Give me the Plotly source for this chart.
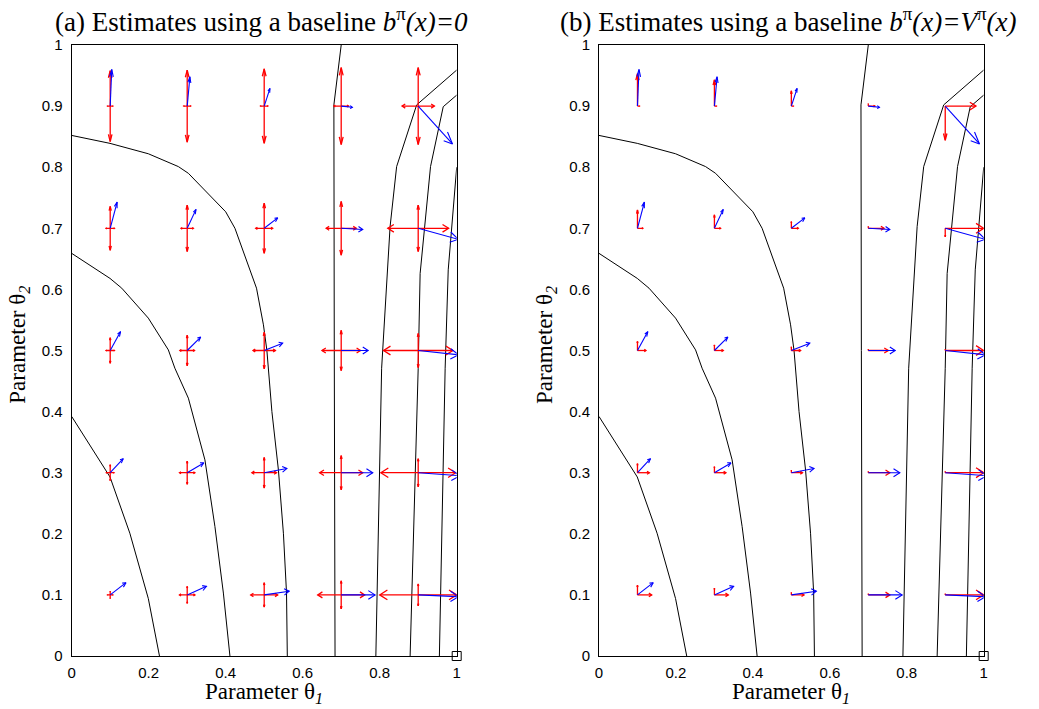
import plotly.graph_objects as go

# ---------------- data ----------------
grid_x = [0.1, 0.3, 0.5, 0.7, 0.9]
grid_y = [0.1, 0.3, 0.5, 0.7, 0.9]

# mean gradient estimate (blue), rows = grid_y, cols = grid_x
blue_u = [[0.041, 0.050, 0.065, 0.088, 0.105],
          [0.034, 0.043, 0.059, 0.082, 0.108],
          [0.027, 0.035, 0.048, 0.070, 0.105],
          [0.018, 0.023, 0.035, 0.056, 0.104],
          [0.004, 0.007, 0.015, 0.029, 0.089]]
blue_v = [[0.020, 0.014, 0.006, 0.000, -0.003],
          [0.023, 0.016, 0.007, 0.000, -0.005],
          [0.031, 0.022, 0.012, 0.000, -0.007],
          [0.043, 0.031, 0.017, -0.002, -0.018],
          [0.060, 0.048, 0.029, -0.002, -0.062]]

# (a) standard deviation (red, double headed)
std_a_u = [[0.007, 0.020, 0.035, 0.061, 0.100],
           [0.010, 0.020, 0.032, 0.056, 0.097],
           [0.011, 0.019, 0.029, 0.050, 0.090],
           [0.011, 0.016, 0.022, 0.039, 0.079],
           [0.007, 0.009, 0.0095, 0.019, 0.042]]
std_a_v = [[0.006, 0.014, 0.020, 0.023, 0.018],
           [0.013, 0.019, 0.025, 0.028, 0.023],
           [0.021, 0.025, 0.030, 0.033, 0.028],
           [0.036, 0.038, 0.041, 0.044, 0.038],
           [0.058, 0.059, 0.061, 0.063, 0.063]]

# (b) standard deviation (red, signed single arrows)
std_b_u = [[0.037, 0.036, 0.033, 0.056, 0.100],
           [0.031, 0.030, 0.029, 0.056, 0.100],
           [0.022, 0.023, 0.024, 0.052, 0.100],
           [0.014, 0.016, 0.018, 0.041, 0.100],
           [0.005, 0.005, 0.005, 0.017, 0.080]]
std_b_v = [[0.016, 0.011, 0.004, 0.002, 0.002],
           [0.015, 0.010, 0.004, 0.002, 0.002],
           [0.015, 0.009, 0.006, 0.002, 0.002],
           [0.030, 0.022, 0.011, 0.003, -0.014],
           [0.053, 0.043, 0.025, 0.004, -0.056]]

# contour lines of the value function
contours = [
    ([0, 0.0995, 0.199, 0.277, 0.303, 0.40, 0.424, 0.48, 0.498, 0.507, 0.52, 0.537, 0.55, 0.558, 0.56],
     [0.852, 0.839, 0.822, 0.801, 0.79, 0.727, 0.70, 0.602, 0.542, 0.50, 0.40, 0.304, 0.20, 0.103, 0]),
    ([0, 0.0995, 0.13, 0.199, 0.251, 0.268, 0.303, 0.346, 0.372, 0.394, 0.411],
     [0.659, 0.618, 0.602, 0.553, 0.501, 0.471, 0.422, 0.321, 0.212, 0.103, 0]),
    ([0, 0.0995, 0.151, 0.199, 0.228],
     [0.392, 0.293, 0.201, 0.094, 0]),
    ([0.70, 0.681, 0.682, 0.684],
     [1.0, 0.902, 0.5, 0]),
    ([1.0, 0.896, 0.844, 0.827, 0.805, 0.79],
     [0.959, 0.902, 0.801, 0.703, 0.471, 0]),
    ([1.0, 0.965, 0.932, 0.905, 0.90, 0.879],
     [0.918, 0.899, 0.801, 0.626, 0.471, 0]),
    ([1.0, 0.978, 0.97, 0.955],
     [0.80, 0.632, 0.471, 0]),
]

x_ticks = [0, 0.2, 0.4, 0.6, 0.8, 1]
x_tick_text = ["0", "0.2", "0.4", "0.6", "0.8", "1"]
y_ticks = [0, 0.1, 0.2, 0.3, 0.4, 0.5, 0.6, 0.7, 0.8, 0.9, 1]
y_tick_text = ["0", "0.1", "0.2", "0.3", "0.4", "0.5", "0.6", "0.7", "0.8", "0.9", "1"]

titles = ["(a) Estimates using a baseline <i>b</i><sup>π</sup><i>(x)=0</i>",
          "(b) Estimates using a baseline <i>b</i><sup>π</sup><i>(x)=V</i><sup>π</sup><i>(x)</i>"]

# ---------------- helpers ----------------
ALPHA, BETA = 0.2, 0.4


def add_arrow(xs, ys, x0, y0, u, v):
    x1, y1 = x0 + u, y0 + v
    xs += [x0, x1, None]
    ys += [y0, y1, None]
    hx1 = x1 - ALPHA * (u + BETA * v)
    hy1 = y1 - ALPHA * (v - BETA * u)
    hx2 = x1 - ALPHA * (u - BETA * v)
    hy2 = y1 - ALPHA * (v + BETA * u)
    xs += [hx1, x1, hx2, None]
    ys += [hy1, y1, hy2, None]


fig = go.Figure()

panels = [("x", "y"), ("x2", "y2")]
for p, (xa, ya) in enumerate(panels):
    # contours
    cx, cy = [], []
    for xs_, ys_ in contours:
        cx += list(xs_) + [None]
        cy += list(ys_) + [None]
    fig.add_trace(go.Scatter(x=cx, y=cy, mode="lines", xaxis=xa, yaxis=ya,
                             line=dict(color="black", width=1), hoverinfo="skip",
                             showlegend=False))
    # red arrows
    rx, ry = [], []
    for i, gy in enumerate(grid_y):
        for j, gx in enumerate(grid_x):
            if p == 0:
                su, sv = std_a_u[i][j], std_a_v[i][j]
                add_arrow(rx, ry, gx, gy, su, 0)
                add_arrow(rx, ry, gx, gy, -su, 0)
                add_arrow(rx, ry, gx, gy, 0, sv)
                add_arrow(rx, ry, gx, gy, 0, -sv)
            else:
                add_arrow(rx, ry, gx, gy, std_b_u[i][j], 0)
                add_arrow(rx, ry, gx, gy, 0, std_b_v[i][j])
    fig.add_trace(go.Scatter(x=rx, y=ry, mode="lines", xaxis=xa, yaxis=ya,
                             line=dict(color="rgb(255,0,0)", width=1.3), hoverinfo="skip",
                             showlegend=False))
    # blue arrows
    bx, by = [], []
    for i, gy in enumerate(grid_y):
        for j, gx in enumerate(grid_x):
            add_arrow(bx, by, gx, gy, blue_u[i][j], blue_v[i][j])
    fig.add_trace(go.Scatter(x=bx, y=by, mode="lines", xaxis=xa, yaxis=ya,
                             line=dict(color="rgb(0,0,255)", width=1.1), hoverinfo="skip",
                             showlegend=False))
    # small square marker at the corner
    fig.add_trace(go.Scatter(x=[1], y=[0], mode="markers", xaxis=xa, yaxis=ya,
                             marker=dict(symbol="square", size=9, color="white",
                                         line=dict(color="black", width=1)),
                             cliponaxis=False, hoverinfo="skip", showlegend=False))

# body margin is removed in the page (post_script), figure fills the window
OFF = 0
W, H = 1039, 709


def fx(px):
    return (px - OFF) / W


def fy(py):
    return 1 - (py - OFF) / H


xdom1 = [fx(71.7), fx(456.7)]
xdom2 = [fx(599.0), fx(983.7)]
ydom = [fy(656.0), fy(45.0)]

axis_common = dict(range=[0, 1], showgrid=False, zeroline=False, showline=True,
                   linecolor="black", linewidth=1, mirror=True, ticks="",
                   automargin=False,
                   tickfont=dict(family="Liberation Sans", size=15, color="black"))

fig.update_layout(
    width=W, height=H,
    margin=dict(l=0, r=0, t=0, b=0, pad=0, autoexpand=False),
    paper_bgcolor="white", plot_bgcolor="white",
    hovermode=False,
    xaxis=dict(domain=xdom1, anchor="y", tickvals=x_ticks, ticktext=x_tick_text,
               ticklabelstandoff=3, **axis_common),
    yaxis=dict(domain=ydom, anchor="x", tickvals=y_ticks, ticktext=y_tick_text,
               ticklabelstandoff=5, **axis_common),
    xaxis2=dict(domain=xdom2, anchor="y2", tickvals=x_ticks, ticktext=x_tick_text,
                ticklabelstandoff=3, **axis_common),
    yaxis2=dict(domain=ydom, anchor="x2", tickvals=y_ticks, ticktext=y_tick_text,
                ticklabelstandoff=5, **axis_common),
)

serif = dict(family="Liberation Serif", color="black")
annots = []
for k, (dom, t) in enumerate(zip([xdom1, xdom2], titles)):
    cx = (dom[0] + dom[1]) / 2
    annots.append(dict(text=t, x=cx - 3 / W, y=fy(20), xref="paper", yref="paper",
                       xanchor="center", yanchor="middle", showarrow=False,
                       font=dict(size=27, **serif)))
    annots.append(dict(text="Parameter θ<sub><i>1</i></sub>", x=cx, y=fy(693),
                       xref="paper", yref="paper", xanchor="center", yanchor="middle",
                       showarrow=False, font=dict(size=23, **serif)))
    annots.append(dict(text="Parameter θ<sub><i>2</i></sub>", x=dom[0] - 53 / W,
                       y=fy(345), xref="paper", yref="paper", xanchor="center",
                       yanchor="middle", showarrow=False, textangle=-90,
                       font=dict(size=23, **serif)))
fig.update_layout(annotations=annots)

fig.write_html("out.html",
               config={"displayModeBar": False, "staticPlot": True},
               post_script="document.body.style.margin='0';document.body.style.overflow='hidden';")
